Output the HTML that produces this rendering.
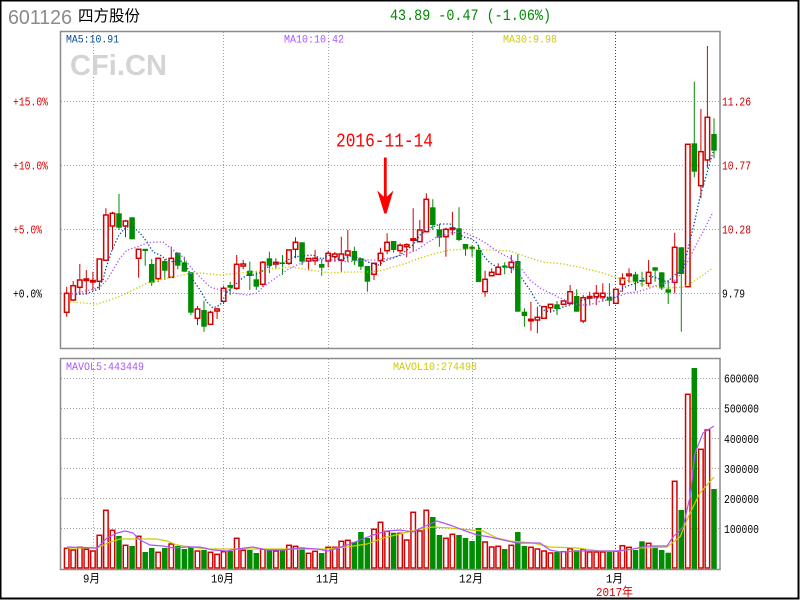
<!DOCTYPE html>
<html><head><meta charset="utf-8"><style>
html,body{margin:0;padding:0;background:#fff;}
svg{display:block;}
text{font-family:"Liberation Mono","Noto Sans CJK SC",monospace;}
</style></head><body>
<svg width="800" height="600" viewBox="0 0 800 600" xmlns="http://www.w3.org/2000/svg">
<rect x="0" y="0" width="800" height="600" fill="#fff"/>
<text x="8" y="24" font-size="20" fill="#8a8a8a" style="font-family:'Liberation Sans',sans-serif" textLength="64" lengthAdjust="spacingAndGlyphs">601126</text>
<text x="78" y="21" font-size="15.5" fill="#000" style="font-family:'Liberation Sans','Noto Sans CJK SC',sans-serif">四方股份</text>
<text x="390" y="20" font-size="16" fill="#008800" textLength="161" lengthAdjust="spacingAndGlyphs">43.89 -0.47 (-1.06%)</text>
<g stroke="#a0a0a0" stroke-width="1" stroke-dasharray="1 2" fill="none">
<path d="M61 101.5H720M61 165.5H720M61 229.5H720M61 293.5H720"/>
<path d="M93.5 32V348M223.5 32V348M328.5 32V348M472.5 32V348"/>
<path d="M93.5 359V569M223.5 359V569M328.5 359V569M472.5 359V569"/>
<path d="M61 378.5H720M61 408.5H720M61 438.5H720M61 468.5H720M61 498.5H720M61 528.5H720"/>
</g>
<path d="M615.5 32V570" stroke="#dd0000" stroke-width="1" stroke-dasharray="1 2" fill="none"/>
<text x="70" y="75" font-size="29" font-weight="bold" fill="#d4d4d4" style="font-family:'Liberation Sans',sans-serif" textLength="97" lengthAdjust="spacingAndGlyphs">CFi.CN</text>
<text x="66" y="42.5" font-size="11" fill="#004a99" textLength="53" lengthAdjust="spacingAndGlyphs">MA5:10.91</text>
<text x="284" y="42.5" font-size="11" fill="#aa55ff" textLength="60" lengthAdjust="spacingAndGlyphs">MA10:10.42</text>
<text x="503" y="42.5" font-size="11" fill="#cccc00" textLength="54" lengthAdjust="spacingAndGlyphs">MA30:9.98</text>
<g font-size="11.5">
<text x="13" y="105.5" fill="#dd0000" textLength="35" lengthAdjust="spacingAndGlyphs">+15.0%</text>
<text x="13" y="169.5" fill="#dd0000" textLength="35" lengthAdjust="spacingAndGlyphs">+10.0%</text>
<text x="13" y="233.5" fill="#dd0000" textLength="29" lengthAdjust="spacingAndGlyphs">+5.0%</text>
<text x="13" y="297.5" fill="#000" textLength="29" lengthAdjust="spacingAndGlyphs">+0.0%</text>
<text x="722" y="105.5" fill="#cc0000" textLength="29" lengthAdjust="spacingAndGlyphs">11.26</text>
<text x="722" y="169.5" fill="#cc0000" textLength="29" lengthAdjust="spacingAndGlyphs">10.77</text>
<text x="722" y="233.5" fill="#cc0000" textLength="29" lengthAdjust="spacingAndGlyphs">10.28</text>
<text x="722" y="297.5" fill="#000" textLength="23" lengthAdjust="spacingAndGlyphs">9.79</text>
</g>
<path fill="none" stroke="#d40000" stroke-width="1" d="M66.7 286.7V316.7M73.2 281V301M79.8 264V295M86.3 270V294.3M92.9 271.7V290M99.4 259V290M105.9 208.3V260.3M112.5 211.7V250M125.5 220V237.3M138.6 249.3V277.7M158.2 258.3V282M171.3 246.7V277.3M197.5 306V325M210.5 310.7V325M217.1 307.7V319M223.6 285.7V304M236.7 255V290M243.2 260V269.3M262.8 261V286.7M275.9 258.3V269.3M289 250V265M295.5 237.3V258.3M308.6 258.3V270.7M315.1 250V265M328.2 250.7V267.3M334.8 252V262M341.3 236.7V271.7M347.8 230V261.7M374 263.3V280M380.5 247.7V266M387.1 233.3V254M400.1 243.3V254M406.7 243.3V257.3M413.2 208.3V251.7M419.8 220V241.7M426.3 193.3V231.7M445.9 227.7V256.7M452.4 211.7V235M485.1 270.7V296.7M491.7 268.3V275.7M498.2 263.3V274.3M511.3 255V273.3M530.9 301.7V330.7M537.4 306.7V333.3M544 306.7V318.3M550.5 304.3V312.7M563.6 301V305M570.1 285V305M583.2 295V323.3M589.7 291.7V305M596.3 285V305M602.8 283.3V301.7M615.9 289.3V303.3M622.4 273.3V291.7M629 268.3V282.7M648.6 260V286.7M674.7 232.7V293.3M687.8 144.3V286.7M700.9 109V198.3M707.4 46V167.7"/>
<path fill="none" stroke="#008c00" stroke-width="1" d="M119 194V230M132.1 217.3V239.3M145.2 249V265.7M151.7 259V286M164.8 259V280M177.8 252.7V269.3M184.4 256.7V271.7M190.9 272.3V315M204 300.7V331.7M230.2 281.7V295M249.8 261.7V290M256.3 270.7V290M269.4 251.7V273.3M282.5 255V275M302.1 242.3V265M321.7 259V275.7M354.4 246.7V265M360.9 258.3V270M367.4 266V291.7M393.6 241V252.7M432.8 199.3V230M439.4 224V246.7M459 207.3V241M465.5 244V255.7M472.1 245V256.7M478.6 245V282M504.7 262.3V274.3M517.8 254.3V311.7M524.4 308.3V326.7M557 301V315M576.7 289.3V311.7M609.4 283.3V306M635.5 271.7V290.7M642 271.7V286.7M655.1 267.3V281.7M661.7 272.3V290M668.2 280V304M681.3 247.3V331.7M694.3 81.7V177.3M714 118.3V158.3"/>
<g fill="#fff" stroke="#d40000" stroke-width="1.5">
<rect x="64.45" y="293.3" width="4.5" height="19"/>
<rect x="70.95" y="285.7" width="4.5" height="14.3"/>
<rect x="77.55" y="280" width="4.5" height="7.3"/>
<rect x="84.05" y="279" width="4.5" height="1.5"/>
<rect x="90.65" y="280.5" width="4.5" height="1.5"/>
<rect x="97.15" y="259" width="4.5" height="22.3"/>
<rect x="103.65" y="215" width="4.5" height="45.3"/>
<rect x="110.25" y="213.3" width="4.5" height="12.7"/>
<rect x="123.25" y="221" width="4.5" height="5"/>
<rect x="136.35" y="249.3" width="4.5" height="9"/>
<rect x="155.95" y="258.3" width="4.5" height="20.4"/>
<rect x="169.05" y="258.3" width="4.5" height="19"/>
<rect x="195.25" y="309" width="4.5" height="9.3"/>
<rect x="208.25" y="312.3" width="4.5" height="12"/>
<rect x="214.85" y="309" width="4.5" height="2"/>
<rect x="221.35" y="288.3" width="4.5" height="13"/>
<rect x="234.45" y="264.3" width="4.5" height="24"/>
<rect x="240.95" y="264" width="4.5" height="2"/>
<rect x="260.55" y="262.3" width="4.5" height="22"/>
<rect x="273.65" y="262.3" width="4.5" height="1.7"/>
<rect x="286.75" y="250" width="4.5" height="13.3"/>
<rect x="293.25" y="242.3" width="4.5" height="7"/>
<rect x="306.35" y="258.5" width="4.5" height="2.5"/>
<rect x="312.85" y="258.3" width="4.5" height="2.4"/>
<rect x="325.95" y="253.3" width="4.5" height="7.7"/>
<rect x="332.55" y="254" width="4.5" height="2.7"/>
<rect x="339.05" y="254" width="4.5" height="6.3"/>
<rect x="345.55" y="251" width="4.5" height="4"/>
<rect x="371.75" y="263.3" width="4.5" height="11"/>
<rect x="378.25" y="253.3" width="4.5" height="7.4"/>
<rect x="384.85" y="242.3" width="4.5" height="8.4"/>
<rect x="397.85" y="245.3" width="4.5" height="5.4"/>
<rect x="404.45" y="244.7" width="4.5" height="2"/>
<rect x="410.95" y="238.8" width="4.5" height="1.5"/>
<rect x="417.55" y="230" width="4.5" height="11.7"/>
<rect x="424.05" y="199.3" width="4.5" height="32.4"/>
<rect x="443.65" y="229.3" width="4.5" height="7.4"/>
<rect x="450.15" y="228" width="4.5" height="1.5"/>
<rect x="482.85" y="279.3" width="4.5" height="12.4"/>
<rect x="489.45" y="272.3" width="4.5" height="3.4"/>
<rect x="495.95" y="267.3" width="4.5" height="7"/>
<rect x="509.05" y="262.3" width="4.5" height="5"/>
<rect x="528.65" y="319.3" width="4.5" height="1.5"/>
<rect x="535.15" y="317.3" width="4.5" height="2.7"/>
<rect x="541.75" y="306.7" width="4.5" height="11.6"/>
<rect x="548.25" y="304.3" width="4.5" height="3.4"/>
<rect x="561.35" y="301" width="4.5" height="3.3"/>
<rect x="567.85" y="291.7" width="4.5" height="11.6"/>
<rect x="580.95" y="297.7" width="4.5" height="23.3"/>
<rect x="587.45" y="296.5" width="4.5" height="1.5"/>
<rect x="594.05" y="293.3" width="4.5" height="3.4"/>
<rect x="600.55" y="293.3" width="4.5" height="3.4"/>
<rect x="613.65" y="289.3" width="4.5" height="14"/>
<rect x="620.15" y="278.3" width="4.5" height="6"/>
<rect x="626.75" y="274" width="4.5" height="1.7"/>
<rect x="646.35" y="272.3" width="4.5" height="11"/>
<rect x="672.45" y="247.3" width="4.5" height="35"/>
<rect x="685.55" y="144.3" width="4.5" height="142.4"/>
<rect x="698.65" y="151.7" width="4.5" height="34"/>
<rect x="705.15" y="117.3" width="4.5" height="42.7"/>
</g>
<g fill="#008c00">
<rect x="116.25" y="213.3" width="5.5" height="14.4"/>
<rect x="129.35" y="217.3" width="5.5" height="22"/>
<rect x="142.45" y="248.8" width="5.5" height="2.2"/>
<rect x="148.95" y="264" width="5.5" height="18.7"/>
<rect x="162.05" y="261" width="5.5" height="9.7"/>
<rect x="175.05" y="252.7" width="5.5" height="13"/>
<rect x="181.65" y="262.3" width="5.5" height="9.4"/>
<rect x="188.15" y="272.3" width="5.5" height="40.4"/>
<rect x="201.25" y="310" width="5.5" height="16.7"/>
<rect x="227.45" y="285" width="5.5" height="2.7"/>
<rect x="247.05" y="270.7" width="5.5" height="5.3"/>
<rect x="253.55" y="279.3" width="5.5" height="7.4"/>
<rect x="266.65" y="258.3" width="5.5" height="7.4"/>
<rect x="279.75" y="262.5" width="5.5" height="1.5"/>
<rect x="299.35" y="242.3" width="5.5" height="19.4"/>
<rect x="318.95" y="264" width="5.5" height="3.7"/>
<rect x="351.65" y="251" width="5.5" height="9.7"/>
<rect x="358.15" y="258.3" width="5.5" height="8.4"/>
<rect x="364.65" y="266" width="5.5" height="15.7"/>
<rect x="390.85" y="241" width="5.5" height="9"/>
<rect x="430.05" y="207.3" width="5.5" height="17.7"/>
<rect x="436.65" y="229.3" width="5.5" height="8.4"/>
<rect x="456.25" y="228.3" width="5.5" height="11.7"/>
<rect x="462.75" y="244" width="5.5" height="5.3"/>
<rect x="469.35" y="246.7" width="5.5" height="2.6"/>
<rect x="475.85" y="250" width="5.5" height="32"/>
<rect x="501.95" y="265.5" width="5.5" height="1.8"/>
<rect x="515.05" y="261" width="5.5" height="50.7"/>
<rect x="521.65" y="311.7" width="5.5" height="4.3"/>
<rect x="554.25" y="304.3" width="5.5" height="4.7"/>
<rect x="573.95" y="296" width="5.5" height="15.7"/>
<rect x="606.65" y="297.3" width="5.5" height="3.4"/>
<rect x="632.75" y="274.3" width="5.5" height="7.4"/>
<rect x="639.25" y="280" width="5.5" height="1.7"/>
<rect x="652.35" y="267.3" width="5.5" height="3.4"/>
<rect x="658.95" y="272.3" width="5.5" height="16"/>
<rect x="665.45" y="289.3" width="5.5" height="3.4"/>
<rect x="678.55" y="247.3" width="5.5" height="26.7"/>
<rect x="691.55" y="143.3" width="5.5" height="28.4"/>
<rect x="711.25" y="134" width="5.5" height="16.7"/>
</g>
<g fill="none" stroke-width="1.3" stroke-dasharray="1.3 2">
<polyline stroke="#cccc00" points="70,302 83,303 97,304 110,300 123,295 137,288 147,283 160,280 173,277 187,274 200,273 220,275 240,273 260,271 270,269 290,267 310,270 330,273 347,272 367,272 380,271 393,267 407,263 420,258 437,253 450,250 470,249 490,250 510,251 527,257 543,262 563,264 583,268 603,273 617,278 637,283 650,286 667,288 683,287 693,282 703,275 713,268"/>
<polyline stroke="#aa55ff" points="72,294 90,290 100,287 107,280 113,270 120,258 127,250 137,247 147,243 157,242 163,242 173,250 183,257 193,270 200,277 210,287 220,290 233,293 247,295 257,293 263,287 277,277 287,270 297,265 310,260 320,260 333,260 347,262 363,260 377,260 390,258 403,255 417,250 427,243 437,237 450,233 463,232 470,235 477,238 487,244 500,253 510,258 520,267 530,280 540,288 550,293 560,298 570,302 580,305 590,305 597,302 607,300 617,297 627,293 637,292 650,288 660,284 673,282 682,273 690,257 697,243 705,228 713,212"/>
<polyline stroke="#004a99" points="76,294 86,294 96,290 103,280 106,268 112,250 119,235 126,227 133,227 140,233 147,242 153,252 160,255 167,260 173,262 180,260 187,267 193,280 200,290 207,302 213,308 220,305 227,292 233,287 240,280 247,275 253,275 260,273 266,268 276,263 283,263 293,257 303,256 313,255 322,259 330,255 340,260 350,256 360,258 370,263 378,265 387,260 393,258 400,255 407,250 413,245 420,235 430,228 440,224 450,224 457,230 463,237 470,238 477,243 483,255 490,263 497,267 503,267 510,268 517,270 523,280 530,290 537,302 543,310 550,312 557,310 563,307 570,305 577,302 583,300 590,298 597,298 603,298 610,297 617,297 623,288 630,285 637,283 643,279 650,276 657,278 667,282 677,273 682,273 689,245 695,220 700,197 707,173 713,152"/>
</g>
<text x="336" y="146.7" font-size="19" fill="#ff0000" textLength="97" lengthAdjust="spacingAndGlyphs">2016-11-14</text>
<line x1="385.3" y1="157.5" x2="385.3" y2="200" stroke="#ff0000" stroke-width="2.8"/>
<polygon fill="#ff0000" points="377.3,190.5 383.5,196.5 385.3,195 387.2,196.5 393.4,190.5 386.5,213.5 384.3,213.5"/>
<rect x="60.5" y="31.5" width="659.5" height="317" fill="none" stroke="#8c8c8c" stroke-width="1.5"/>
<g fill="#fff" stroke="#d40000" stroke-width="1.5">
<rect x="64.45" y="548.3" width="4.5" height="19.7"/>
<rect x="70.95" y="550" width="4.5" height="18"/>
<rect x="77.55" y="547.3" width="4.5" height="20.7"/>
<rect x="84.05" y="549.3" width="4.5" height="18.7"/>
<rect x="90.65" y="551" width="4.5" height="17"/>
<rect x="97.15" y="535.3" width="4.5" height="32.7"/>
<rect x="103.65" y="510.3" width="4.5" height="57.7"/>
<rect x="110.25" y="530.3" width="4.5" height="37.7"/>
<rect x="123.25" y="545.3" width="4.5" height="22.7"/>
<rect x="136.35" y="536.3" width="4.5" height="31.7"/>
<rect x="155.95" y="552.3" width="4.5" height="15.7"/>
<rect x="169.05" y="544" width="4.5" height="24"/>
<rect x="195.25" y="551" width="4.5" height="17"/>
<rect x="208.25" y="552.3" width="4.5" height="15.7"/>
<rect x="214.85" y="554.3" width="4.5" height="13.7"/>
<rect x="221.35" y="551.7" width="4.5" height="16.3"/>
<rect x="234.45" y="538.3" width="4.5" height="29.7"/>
<rect x="240.95" y="550.3" width="4.5" height="17.7"/>
<rect x="260.55" y="549.3" width="4.5" height="18.7"/>
<rect x="273.65" y="551" width="4.5" height="17"/>
<rect x="286.75" y="545.3" width="4.5" height="22.7"/>
<rect x="293.25" y="546.3" width="4.5" height="21.7"/>
<rect x="306.35" y="553.3" width="4.5" height="14.7"/>
<rect x="312.85" y="551.3" width="4.5" height="16.7"/>
<rect x="325.95" y="547.3" width="4.5" height="20.7"/>
<rect x="332.55" y="547.3" width="4.5" height="20.7"/>
<rect x="339.05" y="541.3" width="4.5" height="26.7"/>
<rect x="345.55" y="540.3" width="4.5" height="27.7"/>
<rect x="371.75" y="529.3" width="4.5" height="38.7"/>
<rect x="378.25" y="522.3" width="4.5" height="45.7"/>
<rect x="384.85" y="531.3" width="4.5" height="36.7"/>
<rect x="397.85" y="533.3" width="4.5" height="34.7"/>
<rect x="404.45" y="540" width="4.5" height="28"/>
<rect x="410.95" y="512.3" width="4.5" height="55.7"/>
<rect x="417.55" y="531" width="4.5" height="37"/>
<rect x="424.05" y="510.3" width="4.5" height="57.7"/>
<rect x="443.65" y="538.3" width="4.5" height="29.7"/>
<rect x="450.15" y="534.3" width="4.5" height="33.7"/>
<rect x="482.85" y="542" width="4.5" height="26"/>
<rect x="489.45" y="547" width="4.5" height="21"/>
<rect x="495.95" y="546.3" width="4.5" height="21.7"/>
<rect x="509.05" y="545.3" width="4.5" height="22.7"/>
<rect x="528.65" y="547.3" width="4.5" height="20.7"/>
<rect x="535.15" y="549" width="4.5" height="19"/>
<rect x="541.75" y="551" width="4.5" height="17"/>
<rect x="548.25" y="553" width="4.5" height="15"/>
<rect x="561.35" y="551.7" width="4.5" height="16.3"/>
<rect x="567.85" y="548.7" width="4.5" height="19.3"/>
<rect x="580.95" y="549.3" width="4.5" height="18.7"/>
<rect x="587.45" y="552" width="4.5" height="16"/>
<rect x="594.05" y="552" width="4.5" height="16"/>
<rect x="600.55" y="552" width="4.5" height="16"/>
<rect x="613.65" y="551.3" width="4.5" height="16.7"/>
<rect x="620.15" y="545.7" width="4.5" height="22.3"/>
<rect x="626.75" y="547.3" width="4.5" height="20.7"/>
<rect x="646.35" y="543.3" width="4.5" height="24.7"/>
<rect x="672.45" y="481.3" width="4.5" height="86.7"/>
<rect x="685.55" y="394.3" width="4.5" height="173.7"/>
<rect x="698.65" y="449.3" width="4.5" height="118.7"/>
<rect x="705.15" y="430" width="4.5" height="138"/>
</g>
<g fill="#008c00">
<rect x="116.25" y="536" width="5.5" height="33"/>
<rect x="129.35" y="546" width="5.5" height="23"/>
<rect x="142.45" y="552" width="5.5" height="17"/>
<rect x="148.95" y="548" width="5.5" height="21"/>
<rect x="162.05" y="548" width="5.5" height="21"/>
<rect x="175.05" y="546" width="5.5" height="23"/>
<rect x="181.65" y="549" width="5.5" height="20"/>
<rect x="188.15" y="546.7" width="5.5" height="22.3"/>
<rect x="201.25" y="550" width="5.5" height="19"/>
<rect x="227.45" y="551" width="5.5" height="18"/>
<rect x="247.05" y="550" width="5.5" height="19"/>
<rect x="253.55" y="553" width="5.5" height="16"/>
<rect x="266.65" y="550" width="5.5" height="19"/>
<rect x="279.75" y="550.3" width="5.5" height="18.7"/>
<rect x="299.35" y="547.3" width="5.5" height="21.7"/>
<rect x="318.95" y="553" width="5.5" height="16"/>
<rect x="351.65" y="542" width="5.5" height="27"/>
<rect x="358.15" y="532" width="5.5" height="37"/>
<rect x="364.65" y="538" width="5.5" height="31"/>
<rect x="390.85" y="532.7" width="5.5" height="36.3"/>
<rect x="430.05" y="517" width="5.5" height="52"/>
<rect x="436.65" y="535" width="5.5" height="34"/>
<rect x="456.25" y="535" width="5.5" height="34"/>
<rect x="462.75" y="538" width="5.5" height="31"/>
<rect x="469.35" y="541" width="5.5" height="28"/>
<rect x="475.85" y="528" width="5.5" height="41"/>
<rect x="501.95" y="549" width="5.5" height="20"/>
<rect x="515.05" y="532" width="5.5" height="37"/>
<rect x="521.65" y="546" width="5.5" height="23"/>
<rect x="554.25" y="552" width="5.5" height="17"/>
<rect x="573.95" y="550.3" width="5.5" height="18.7"/>
<rect x="606.65" y="551.7" width="5.5" height="17.3"/>
<rect x="632.75" y="550" width="5.5" height="19"/>
<rect x="639.25" y="541.3" width="5.5" height="27.7"/>
<rect x="652.35" y="546.7" width="5.5" height="22.3"/>
<rect x="658.95" y="550" width="5.5" height="19"/>
<rect x="665.45" y="552.7" width="5.5" height="16.3"/>
<rect x="678.55" y="510" width="5.5" height="59"/>
<rect x="691.55" y="368" width="5.5" height="201"/>
<rect x="711.25" y="489" width="5.5" height="80"/>
</g>
<g fill="none" stroke-width="1.2">
<polyline stroke="#cccc00" points="67,548 97,548 110,542 120,539 137,539 157,539 167,541 177,545 190,547 207,549 233,549 267,549 300,549 327,549 347,547 367,544 383,538 400,534 420,529 433,527 450,528 483,531 497,538 510,541 533,543 550,547 577,548 600,551 620,551 640,548 667,547 680,537 690,513 700,493 714,477"/>
<polyline stroke="#aa55ff" points="67,547 97,548 107,538 117,533 125,531 133,533 140,540 150,545 163,546 173,548 187,547 200,547 213,550 227,551 237,549 253,547 267,550 283,550 300,548 317,549 328,551 335,549 347,545 360,540 373,535 387,531 400,530 413,532 423,527 437,521 450,525 463,530 477,535 490,537 503,540 517,543 540,543 550,550 560,552 580,551 600,551 617,551 633,549 647,546 667,546 673,537 683,527 690,497 695,453 703,433 714,426"/>
</g>
<rect x="60.5" y="358.5" width="659.5" height="211" fill="none" stroke="#8c8c8c" stroke-width="1.5"/>
<text x="66" y="370" font-size="11" fill="#aa55ff" textLength="78" lengthAdjust="spacingAndGlyphs">MAVOL5:443449</text>
<text x="393" y="370" font-size="11" fill="#cccc00" textLength="84" lengthAdjust="spacingAndGlyphs">MAVOL10:274498</text>
<g font-size="11.5" fill="#000">
<text x="724" y="382.5" textLength="35" lengthAdjust="spacingAndGlyphs">600000</text>
<text x="724" y="412.5" textLength="35" lengthAdjust="spacingAndGlyphs">500000</text>
<text x="724" y="443" textLength="35" lengthAdjust="spacingAndGlyphs">400000</text>
<text x="724" y="473" textLength="35" lengthAdjust="spacingAndGlyphs">300000</text>
<text x="724" y="503" textLength="35" lengthAdjust="spacingAndGlyphs">200000</text>
<text x="724" y="533" textLength="35" lengthAdjust="spacingAndGlyphs">100000</text>
</g>
<g font-size="12" fill="#000" style="font-family:'Liberation Sans','Noto Sans CJK SC',sans-serif">
<text x="83" y="582.5" textLength="17" lengthAdjust="spacingAndGlyphs">9月</text>
<text x="211" y="582.5" textLength="23" lengthAdjust="spacingAndGlyphs">10月</text>
<text x="316" y="582.5" textLength="23" lengthAdjust="spacingAndGlyphs">11月</text>
<text x="459" y="582.5" textLength="24" lengthAdjust="spacingAndGlyphs">12月</text>
<text x="606" y="582.5" textLength="17" lengthAdjust="spacingAndGlyphs">1月</text>
<text x="596" y="596" fill="#dd0000" textLength="37" lengthAdjust="spacingAndGlyphs">2017年</text>
</g>
<rect x="0.5" y="0.5" width="798" height="598" fill="none" stroke="#000" stroke-width="2"/>
</svg>
</body></html>
